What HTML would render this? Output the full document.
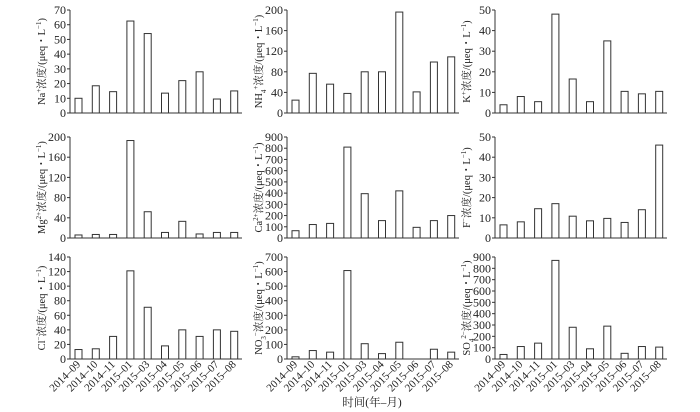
<!DOCTYPE html>
<html><head><meta charset="utf-8"><style>
body{margin:0;background:#fff;}
svg{display:block;font-family:"Liberation Serif","Noto Serif CJK SC",serif;}
</style></head><body>
<svg id="c" width="700" height="412"></svg>
<script>
const categories=["2014–09","2014–10","2014–11","2015–01","2015–03","2015–04","2015–05","2015–06","2015–07","2015–08"];
const naValues=[10,18.5,14.5,62.5,54,13.5,22,28,9.5,15];
const nh4Values=[25,77,56,38,80,80,196,41,99,109];
const kValues=[4,8,5.5,48,16.5,5.5,35,10.5,9.3,10.5];
const mgValues=[6,7,7,193,52,11,33,8,11,11];
const caValues=[65,120,130,810,395,155,420,95,155,200];
const fValues=[6.5,8,14.5,17,10.8,8.5,9.7,7.7,14,46];
const clValues=[13,14,31,121,71,18,40,31,40,38];
const no3Values=[15,58,47,607,105,37,115,0,67,47];
const so4Values=[40,110,140,870,280,90,290,50,110,105];
const naTicks=[0,10,20,30,40,50,60,70];
const nh4Ticks=[0,40,80,120,160,200];
const kTicks=[0,10,20,30,40,50];
const mgTicks=[0,40,80,120,160,200];
const caTicks=[0,100,200,300,400,500,600,700,800,900];
const fTicks=[0,10,20,30,40,50];
const clTicks=[0,20,40,60,80,100,120,140];
const no3Ticks=[0,100,200,300,400,500,600,700];
const so4Ticks=[0,100,200,300,400,500,600,700,800,900];

const svg=document.getElementById('c');
const NS='http://www.w3.org/2000/svg';
function mk(t,a,txt){const e=document.createElementNS(NS,t);for(const k in a)e.setAttribute(k,a[k]);if(txt!==undefined)e.innerHTML=txt;svg.appendChild(e);return e;}
const colX=[70,287,495];
const rows=[{top:10,bot:113},{top:137,bot:238},{top:257,bot:359}];
const panels=[
 ['na',naValues,naTicks,'Na<tspan baseline-shift="super" font-size="7">+</tspan>浓度/(μeq・L<tspan baseline-shift="super" font-size="7">−1</tspan>)'],
 ['nh4',nh4Values,nh4Ticks,'NH<tspan baseline-shift="sub" font-size="7">4</tspan><tspan baseline-shift="super" font-size="7">+</tspan>浓度/(μeq・L<tspan baseline-shift="super" font-size="7">−1</tspan>)'],
 ['k',kValues,kTicks,'K<tspan baseline-shift="super" font-size="7">+</tspan>浓度/(μeq・L<tspan baseline-shift="super" font-size="7">−1</tspan>)'],
 ['mg',mgValues,mgTicks,'Mg<tspan baseline-shift="super" font-size="7">2+</tspan>浓度/(μeq・L<tspan baseline-shift="super" font-size="7">−1</tspan>)'],
 ['ca',caValues,caTicks,'Ca<tspan baseline-shift="super" font-size="7">2+</tspan>浓度/(μeq・L<tspan baseline-shift="super" font-size="7">−1</tspan>)'],
 ['f',fValues,fTicks,'F<tspan baseline-shift="super" font-size="7">−</tspan>浓度/(μeq・L<tspan baseline-shift="super" font-size="7">−1</tspan>)'],
 ['cl',clValues,clTicks,'Cl<tspan baseline-shift="super" font-size="7">−</tspan>浓度/(μeq・L<tspan baseline-shift="super" font-size="7">−1</tspan>)'],
 ['no3',no3Values,no3Ticks,'NO<tspan baseline-shift="sub" font-size="7">3</tspan><tspan baseline-shift="super" font-size="7">−</tspan>浓度/(μeq・L<tspan baseline-shift="super" font-size="7">−1</tspan>)'],
 ['so4',so4Values,so4Ticks,'SO<tspan baseline-shift="sub" font-size="7">4</tspan><tspan baseline-shift="super" font-size="7">2−</tspan>浓度/(μeq・L<tspan baseline-shift="super" font-size="7">−1</tspan>)']
];
panels.forEach((p,idx)=>{
 const [id,vals,ticks,title]=p;
 const x0=colX[idx%3], r=rows[Math.floor(idx/3)];
 const max=ticks[ticks.length-1];
 const y=v=>r.bot-(v/max)*(r.bot-r.top);
 const x=i=>x0+5+i*17.3;
 const g=mk('g',{});
 
 
 let e=mk('line',{x1:x0,y1:r.top,x2:x0,y2:r.bot,stroke:'#333','stroke-width':1});
 
 e=mk('line',{x1:x0,y1:r.bot,x2:x0+172,y2:r.bot,stroke:'#333','stroke-width':1});
 
 ticks.forEach(t=>{
  mk('line',{x1:x0-3,y1:y(t),x2:x0,y2:y(t),stroke:'#333','stroke-width':1});
  e=mk('text',{x:x0-4,y:y(t)+4,'text-anchor':'end','font-size':12,fill:'#222'},String(t));
  
 });
 vals.forEach((v,i)=>{
  e=mk('rect',{x:x(i),y:y(v),width:7,height:r.bot-y(v),fill:'#fff',stroke:'#333','stroke-width':1});
  
 });
 const cy=(r.top+r.bot)/2;
 e=mk('text',{x:x0-25,y:cy,'text-anchor':'middle','font-size':10.5,fill:'#222',transform:`rotate(-90 ${x0-25} ${cy})`},title);
 
 if(idx>=6){
  categories.forEach((c,i)=>{
   const tx=x(i)+6, ty=r.bot+6;
   e=mk('text',{x:tx,y:ty,'text-anchor':'end','font-size':11,fill:'#222',transform:`rotate(-45 ${tx} ${ty})`},c);
   
  });
 }
});
const t=mk('text',{x:372,y:406,'text-anchor':'middle','font-size':11.5,fill:'#222'},'时间(年–月)');


</script>
</body></html>
